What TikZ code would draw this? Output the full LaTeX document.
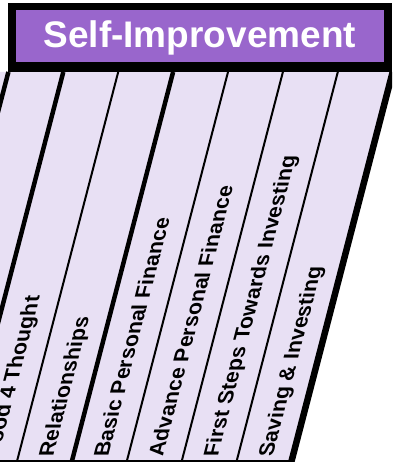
\documentclass[tikz,border=0pt]{standalone}
\usepackage{fontspec}
\setmainfont{Liberation Sans}
\usetikzlibrary{calc}

\definecolor{headpurple}{RGB}{153,102,204}
\definecolor{lavbg}{RGB}{232,224,244}

\begin{document}
\begin{tikzpicture}[x=1pt, y=1pt,
  thickline/.style={line width=4.5pt},
  thinline/.style={line width=2pt},
  topic/.style={font=\bfseries\fontsize{21.3}{25}\selectfont, rotate=90, anchor=base west, inner sep=0pt, transform shape}]
  \useasboundingbox (0,0) rectangle (392,462);
  \clip (0,0) rectangle (392,462);
  \pgfmathsetmacro{\colskew}{0.26}
  \begin{scope}[xslant=\colskew]
    \coordinate (B0) at (-93,0);     \coordinate (T0) at (-93,390);
    \coordinate (B1) at (-38.1,0);   \coordinate (T1) at (-38.1,390);
    \coordinate (B2) at (16.8,0);    \coordinate (T2) at (16.8,390);
    \coordinate (B3) at (71.7,0);    \coordinate (T3) at (71.7,390);
    \coordinate (B4) at (126.6,0);   \coordinate (T4) at (126.6,390);
    \coordinate (B5) at (181.5,0);   \coordinate (T5) at (181.5,390);
    \coordinate (B6) at (236.4,0);   \coordinate (T6) at (236.4,390);
    \coordinate (B7) at (291.3,0);   \coordinate (T7) at (291.3,390);
    % slanted band
    \fill[lavbg] (-140,0) -- (B7) -- (T7) -- (-140,390) -- cycle;
    \draw[thickline] (B0) -- (T0);
    \draw[thickline] (B1) -- (T1);
    \draw[thinline] (B2) -- (T2);
    \draw[thickline] (B3) -- (T3);
    \draw[thinline] (B4) -- (T4);
    \draw[thinline] (B5) -- (T5);
    \draw[thinline] (B6) -- (T6);
    \draw[line width=6.5pt] (B7) -- (T7);
    \draw[line width=1.5pt] (-140,0.75) -- ($(B7)+(0,0.75)$);
    \node[topic] (food) at (-3.15,5) {Food 4 Thought};
    \node[topic] (relations) at (51.75,5) {Relationships};
    \node[topic] (basicfin) at (106.65,5) {Basic Personal Finance};
    \node[topic] (advfin) at (161.55,5) {Advance Personal Finance};
    \node[topic] (firststeps) at (216.45,5) {First Steps Towards Investing};
    \node[topic] (saving) at (271.35,5) {Saving \& Investing};
  \end{scope}
  \fill (8,390) rectangle (392,394);
  \node[draw=black, line width=7.5pt, fill=headpurple, text=white,
    font=\bfseries\fontsize{37}{44}\selectfont, minimum width=376pt,
    minimum height=59pt, inner sep=0pt, outer sep=0pt,
    text height=27pt, text depth=3pt] (title) at (199.75,426) {Self-Improvement};
\end{tikzpicture}
\end{document}
